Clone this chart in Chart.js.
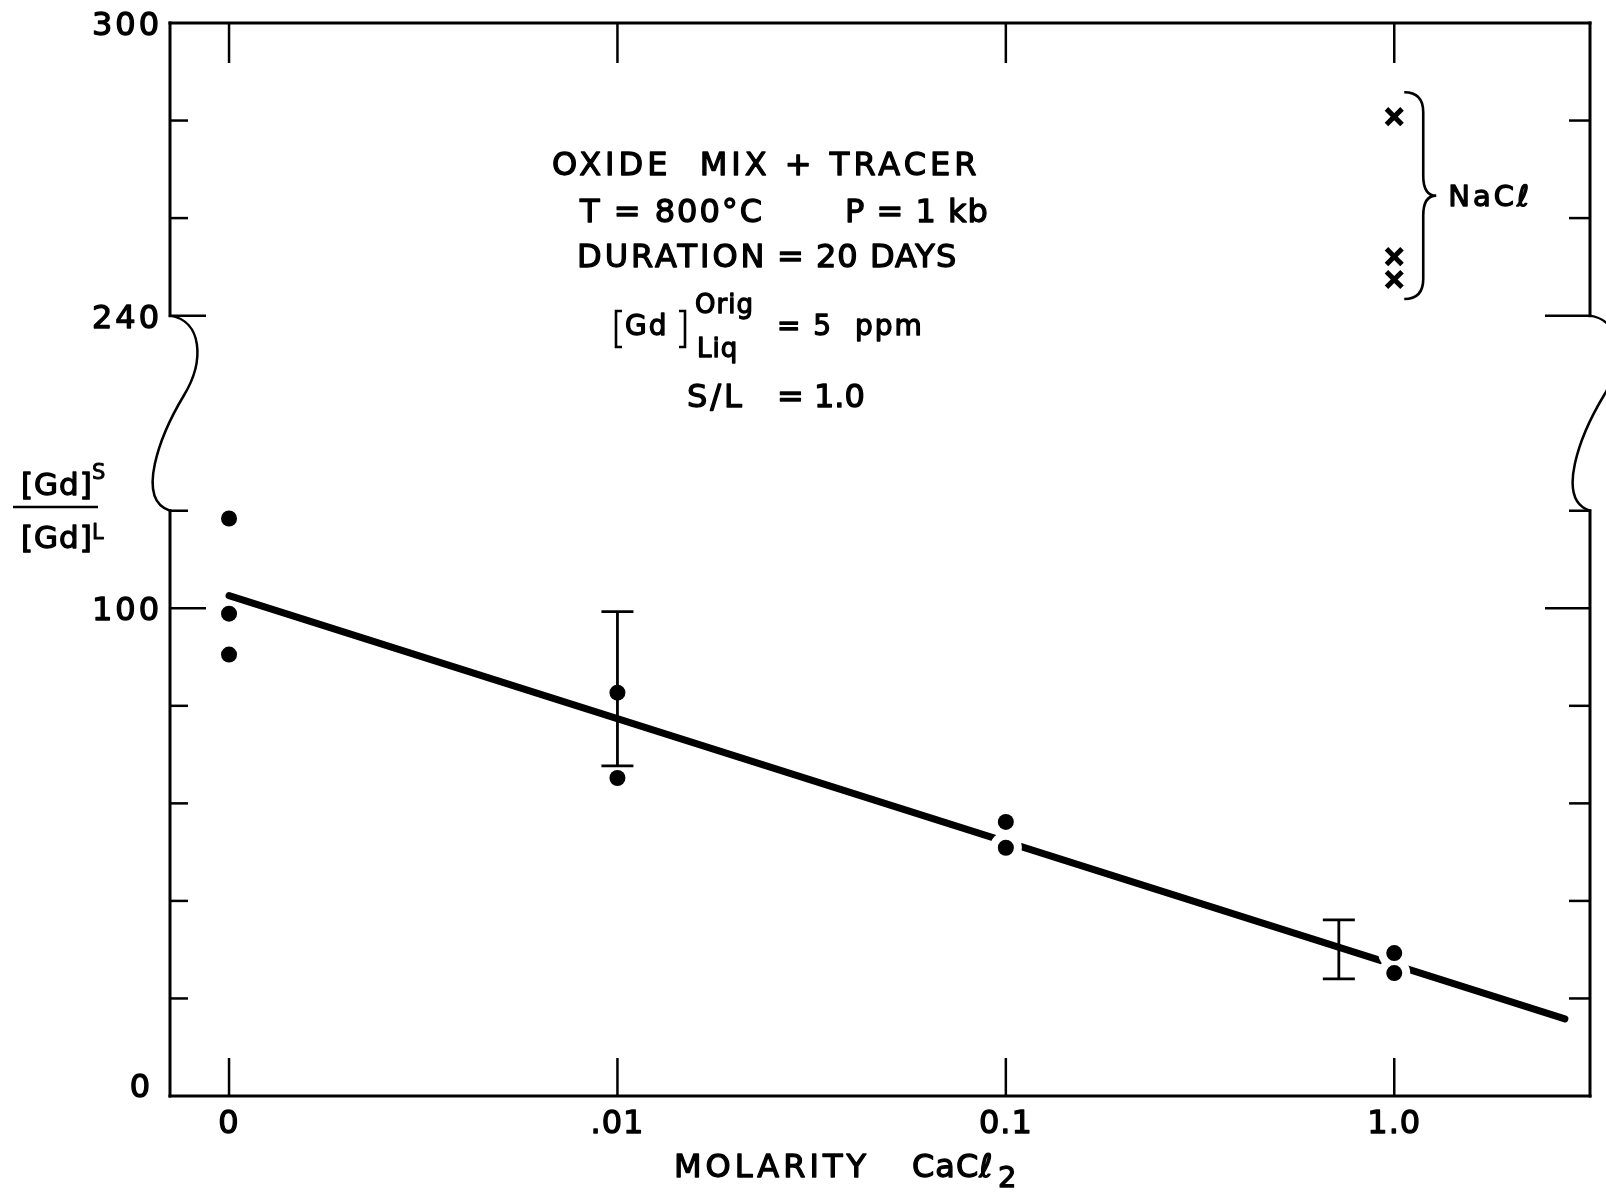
<!DOCTYPE html>
<html>
<head>
<meta charset="utf-8">
<title>Gd partitioning vs CaCl2 molarity</title>
<script src="https://cdn.jsdelivr.net/npm/chart.js@4/dist/chart.umd.min.js"></script>
<style>
  body { margin: 0; background: #fff; }
  canvas { display: block; }
</style>
</head>
<body>
<canvas id="myChart" width="1606" height="1201"></canvas>
<script>
// x axis: CaCl2 molarity, one division per decade, with 0 placed one decade below .01
const molarityTicks = [0, 0.01, 0.1, 1.0];
const molarityTickLabels = ['0', '.01', '0.1', '1.0'];

// y axis: [Gd]S / [Gd]L, broken between 120 and 240
const ratioTicks = [0, 20, 40, 60, 80, 100, 120, 240, 260, 280, 300];
const ratioTickLabels = ['0', '', '', '', '', '100', '', '240', '', '', '300'];

// runs with CaCl2
const caMolarity = [0, 0, 0, 0.01, 0.01, 0.1, 0.1, 1.0, 1.0];
const caRatio = [118.4, 98.9, 90.5, 82.7, 65.2, 56.2, 50.9, 29.3, 25.2];

// runs with NaCl
const naclMolarity = [1.0, 1.0, 1.0];
const naclRatio = [280.8, 252.1, 247.4];

// error bars
const errMolarity = [0.01, 0.72];
const errLow = [67.7, 24.0];
const errHigh = [99.3, 36.1];

// fitted line
const fitMolarity = [0, 2.75];
const fitRatio = [102.6, 15.8];

const FONT = "'DejaVu Sans', sans-serif";
const INK = '#000';

function mx(m) { return m === 0 ? 0 : Math.log10(m) + 3; }
function ry(v) { return v >= 240 ? v - 80 : v; }
function pts(xs, ys) { return xs.map((m, i) => ({ x: mx(m), y: ry(ys[i]) })); }

// lettering: filled and lightly stroked so it reads as pen lettering
function txt(ctx, s, x, y, size, align, spacing) {
  ctx.font = size + 'px ' + FONT;
  ctx.letterSpacing = (spacing || 0) + 'px';
  ctx.textAlign = align || 'left';
  ctx.textBaseline = 'alphabetic';
  ctx.fillText(s, x, y);
  ctx.save();
  ctx.lineWidth = size > 24 ? 1.3 : 0.9;
  ctx.lineJoin = 'round';
  ctx.strokeText(s, x, y);
  ctx.restore();
}

function seg(ctx, x1, y1, x2, y2) {
  ctx.beginPath();
  ctx.moveTo(x1, y1);
  ctx.lineTo(x2, y2);
  ctx.stroke();
}

// wavy break mark drawn where the axis is cut
function breakMark(ctx, ax, top, bot) {
  const k = (bot - top) / 196;
  ctx.beginPath();
  ctx.moveTo(ax, top);
  ctx.bezierCurveTo(ax + 32, top + 5 * k, ax + 35, top + 45 * k, ax + 14, top + 80 * k);
  ctx.bezierCurveTo(ax - 10, top + 120 * k, ax - 35, top + 185 * k, ax, bot);
  ctx.stroke();
}

const frame = {
  id: 'frame',
  afterDraw(chart) {
    const { ctx, chartArea: a, scales: { x, y } } = chart;
    const yCutTop = y.getPixelForValue(ry(240));
    const yCutBot = y.getPixelForValue(ry(120));
    ctx.save();
    ctx.strokeStyle = INK;
    ctx.fillStyle = INK;
    ctx.lineCap = 'square';

    // border
    ctx.lineWidth = 3;
    seg(ctx, a.left, a.top, a.right, a.top);
    seg(ctx, a.left, a.bottom, a.right, a.bottom);
    seg(ctx, a.left, a.top, a.left, yCutTop);
    seg(ctx, a.left, yCutBot, a.left, a.bottom);
    seg(ctx, a.right, a.top, a.right, yCutTop);
    seg(ctx, a.right, yCutBot, a.right, a.bottom);
    ctx.lineWidth = 2.5;
    ctx.lineCap = 'round';
    breakMark(ctx, a.left, yCutTop, yCutBot);
    breakMark(ctx, a.right, yCutTop, yCutBot);

    // y ticks on both sides, labelled ones longer
    ctx.lineCap = 'butt';
    ctx.lineWidth = 2.5;
    ratioTicks.forEach((v, i) => {
      if (v === 0 || v === 300) return;
      const py = y.getPixelForValue(ry(v));
      const major = ratioTickLabels[i] !== '';
      seg(ctx, a.left, py, a.left + (major ? 36 : 18), py);
      seg(ctx, a.right, py, a.right - (major ? 45 : 21), py);
    });
    ratioTicks.forEach((v, i) => {
      const s = ratioTickLabels[i];
      if (!s) return;
      const py = y.getPixelForValue(ry(v));
      if (v === 0) txt(ctx, s, a.left - 18, py + 1, 32, 'right', 2);
      else txt(ctx, s, a.left - 8, py + 12, 32, 'right', 3);
    });

    // x ticks top and bottom
    molarityTicks.forEach((m, i) => {
      const px = x.getPixelForValue(mx(m));
      seg(ctx, px, a.top, px, a.top + 40);
      seg(ctx, px, a.bottom, px, a.bottom - 38);
      txt(ctx, molarityTickLabels[i], px, a.bottom + 37, 32, 'center', 1);
    });

    // error bars
    ctx.lineWidth = 2.8;
    errMolarity.forEach((m, i) => {
      const px = x.getPixelForValue(mx(m));
      const lo = y.getPixelForValue(ry(errLow[i]));
      const hi = y.getPixelForValue(ry(errHigh[i]));
      seg(ctx, px, lo, px, hi);
      seg(ctx, px - 16, lo, px + 16, lo);
      seg(ctx, px - 16, hi, px + 16, hi);
    });

    // brace grouping the NaCl runs
    const bx = x.getPixelForValue(mx(1.0)) + 10;
    const bTop = y.getPixelForValue(ry(Math.max(...naclRatio) + 5));
    const bBot = y.getPixelForValue(ry(Math.min(...naclRatio) - 4));
    const bMid = (bTop + bBot) / 2;
    const w = 19, tip = 13, r = 20;
    ctx.lineWidth = 2.6;
    ctx.beginPath();
    ctx.moveTo(bx, bTop);
    ctx.quadraticCurveTo(bx + w, bTop, bx + w, bTop + r);
    ctx.lineTo(bx + w, bMid - r);
    ctx.quadraticCurveTo(bx + w, bMid, bx + w + tip, bMid);
    ctx.quadraticCurveTo(bx + w, bMid, bx + w, bMid + r);
    ctx.lineTo(bx + w, bBot - r);
    ctx.quadraticCurveTo(bx + w, bBot, bx, bBot);
    ctx.stroke();
    txt(ctx, 'NaC\u2113', bx + w + tip + 12, bMid + 10, 29, 'left', 3);

    // axis titles
    txt(ctx, 'MOLARITY', 674, a.bottom + 81, 32, 'left', 4);
    txt(ctx, 'CaC\u2113', 912, a.bottom + 81, 32, 'left', 1);
    txt(ctx, '2', 998, a.bottom + 91, 29, 'left', 0);

    txt(ctx, '[Gd]', 21, 495, 31, 'left', 1);
    txt(ctx, 'S', 92, 479, 21, 'left', 0);
    ctx.lineWidth = 2.5;
    seg(ctx, 13, 507, 98, 507);
    txt(ctx, '[Gd]', 21, 548, 31, 'left', 1);
    txt(ctx, 'L', 92, 539, 21, 'left', 0);

    // run conditions
    txt(ctx, 'OXIDE  MIX + TRACER', 552, 175, 32, 'left', 4);
    txt(ctx, 'T = 800\u00b0C', 580, 222, 32, 'left', 2);
    txt(ctx, 'P = 1 kb', 845, 222, 32, 'left', 1);
    txt(ctx, 'DURATION', 577, 267, 32, 'left', 3);
    txt(ctx, '= 20 DAYS', 777, 267, 32, 'left', 1);
    // [Gd] with tall brackets
    ctx.lineWidth = 2.6;
    ctx.beginPath();
    ctx.moveTo(622, 311); ctx.lineTo(616, 311); ctx.lineTo(616, 347); ctx.lineTo(622, 347);
    ctx.moveTo(679, 311); ctx.lineTo(685, 311); ctx.lineTo(685, 347); ctx.lineTo(679, 347);
    ctx.stroke();
    txt(ctx, 'Gd', 625, 335, 28, 'left', 2);
    txt(ctx, 'Orig', 695, 313, 26, 'left', 1);
    txt(ctx, 'Liq', 697, 357, 26, 'left', 1);
    txt(ctx, '= 5  ppm', 777, 335, 28, 'left', 2);
    txt(ctx, 'S/L', 687, 407, 32, 'left', 3);
    txt(ctx, '= 1.0', 777, 407, 32, 'left', 0);

    ctx.restore();
  }
};

new Chart(document.getElementById('myChart'), {
  type: 'scatter',
  data: {
    datasets: [
      {
        label: 'CaCl2',
        data: pts(caMolarity, caRatio),
        pointRadius: 8,
        pointBackgroundColor: INK,
        pointBorderWidth: 0,
        order: 0
      },
      {
        label: 'NaCl',
        data: pts(naclMolarity, naclRatio),
        pointStyle: 'crossRot',
        pointRadius: 11,
        pointBorderColor: INK,
        pointBorderWidth: 5,
        order: 0
      },
      {
        // white halo so the fitted line breaks around the points it passes
        label: 'gap',
        data: pts(caMolarity, caRatio).filter(p => p.x >= 2),
        pointRadius: 16,
        pointBackgroundColor: '#fff',
        pointBorderWidth: 0,
        order: 1
      },
      {
        label: 'fit',
        data: pts(fitMolarity, fitRatio),
        showLine: true,
        borderColor: INK,
        borderWidth: 7,
        borderCapStyle: 'round',
        pointRadius: 0,
        order: 2
      }
    ]
  },
  options: {
    responsive: false,
    animation: false,
    devicePixelRatio: 1,
    events: [],
    layout: { padding: { left: 170, top: 23, right: 14, bottom: 105 } },
    scales: {
      x: { type: 'linear', min: -0.152, max: 3.504, display: false },
      y: { type: 'linear', min: 0, max: 220, display: false }
    },
    plugins: {
      legend: { display: false },
      tooltip: { enabled: false }
    }
  },
  plugins: [frame]
});
</script>
</body>
</html>
